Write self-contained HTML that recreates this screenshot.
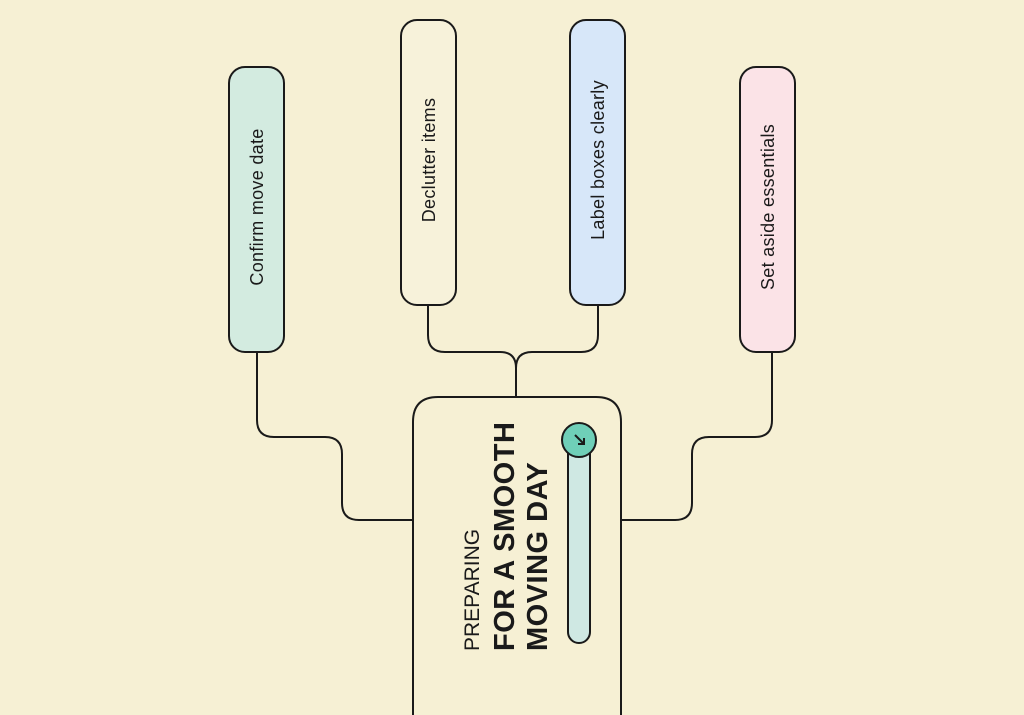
<!DOCTYPE html>
<html><head><style>
html,body{margin:0;padding:0;background:#f6f0d4;}
svg{display:block}
text{font-family:"Liberation Sans",sans-serif;fill:#1a1a1a}
</style></head><body>
<svg width="1024" height="715" viewBox="0 0 1024 715">
<rect width="1024" height="715" fill="#f6f0d4"/>
<g fill="none" stroke="#1a1a1a" stroke-width="2">
<path d="M257 352 V420 Q257 437 274 437 H325 Q342 437 342 454 V503 Q342 520 359 520 H413"/>
<path d="M772 352 V420 Q772 437 755 437 H709 Q692 437 692 454 V503 Q692 520 675 520 H621"/>
<path d="M428 305 V335 Q428 352 445 352 H500 Q516 352 516 368 V397"/>
<path d="M598 305 V335 Q598 352 581 352 H532 Q516 352 516 368"/>
</g>
<g stroke="#1a1a1a" stroke-width="2">
<rect x="229" y="67" width="55" height="285" rx="16" fill="#d3ebe0"/>
<rect x="401" y="20" width="55" height="285" rx="16" fill="#f7f2da"/>
<rect x="570" y="20" width="55" height="285" rx="16" fill="#d7e7f9"/>
<rect x="740" y="67" width="55" height="285" rx="16" fill="#fbe3e7"/>
<path d="M413 740 V422 Q413 397 438 397 H596 Q621 397 621 422 V740" fill="#f6f0d4"/>
<rect x="568" y="440" width="22" height="203" rx="11" fill="#cfe8e3"/>
<circle cx="579" cy="440" r="17" fill="#6fcfb8"/>
</g>
<path d="M575 435 L584 444 M584 438 V444 H578" stroke="#1a1a1a" stroke-width="2" fill="none"/>
<g font-size="18" letter-spacing="0.3">
<text transform="translate(263,207) rotate(-90)" text-anchor="middle">Confirm move date</text>
<text transform="translate(435,160) rotate(-90)" text-anchor="middle">Declutter items</text>
<text transform="translate(604,160) rotate(-90)" text-anchor="middle">Label boxes clearly</text>
<text transform="translate(774,207) rotate(-90)" text-anchor="middle">Set aside essentials</text>
</g>
<text transform="translate(479,651) rotate(-90)" font-size="21">PREPARING</text>
<text transform="translate(514,651) rotate(-90)" font-size="29" font-weight="bold" letter-spacing="0.5">FOR A SMOOTH</text>
<text transform="translate(547,651) rotate(-90)" font-size="29" font-weight="bold" letter-spacing="0.5">MOVING DAY</text>
</svg>
</body></html>
